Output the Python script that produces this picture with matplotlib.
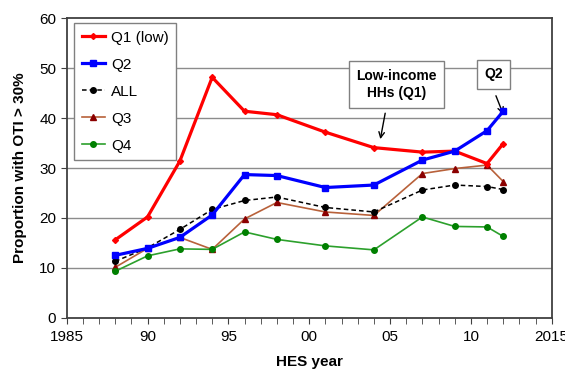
import matplotlib
matplotlib.use('Agg')
import matplotlib.pyplot as plt

plt.rcParams['font.family'] = ['Liberation Sans', 'DejaVu Sans']

years = [1988, 1990, 1992, 1994, 1996, 1998, 2001, 2004, 2007, 2009, 2011, 2012]
q1 = [15.6, 20.2, 31.4, 48.2, 41.4, 40.7, 37.2, 34.1, 33.2, 33.4, 30.9, 34.9]
q2 = [12.5, 13.9, 16.1, 20.6, 28.7, 28.5, 26.1, 26.6, 31.6, 33.4, 37.5, 41.4]
all_hh = [11.3, 14.0, 17.7, 21.7, 23.5, 24.2, 22.1, 21.2, 25.6, 26.6, 26.3, 25.7]
q3 = [10.1, 13.9, 16.1, 13.7, 19.8, 23.1, 21.2, 20.5, 28.9, 29.9, 30.6, 27.3]
q4 = [9.3, 12.4, 13.8, 13.7, 17.2, 15.7, 14.4, 13.6, 20.2, 18.3, 18.2, 16.3]

xticks = [1985, 1990, 1995, 2000, 2005, 2010, 2015]
xticklabels = ['1985', '90', '95', '00', '05', '10', '2015']

fig = plt.figure(figsize=(5.65, 3.69), dpi=100)
ax = fig.add_axes([0.118, 0.139, 0.8585, 0.811])

for yv in range(10, 60, 10):
    ax.axhline(yv, color='#8c8c8c', lw=1.0, zorder=0)

ax.plot(years, q1, color='#ff0000', lw=2.3, marker='D', ms=3, label='Q1 (low)', zorder=5)
ax.plot(years, q2, color='#0000ff', lw=2.3, marker='s', ms=4.5, label='Q2', zorder=6)
ax.plot(years, all_hh, color='#000000', lw=1.1, ls='--', marker='o', ms=4, label='ALL', zorder=4,
        dashes=(3, 2))
ax.plot(years, q3, color='#b8613a', lw=1.2, marker='^', ms=4.5, mfc='#8b0000', mec='#8b0000',
        label='Q3', zorder=3)
ax.plot(years, q4, color='#2ca02c', lw=1.2, marker='o', ms=4, mfc='#008000', mec='#008000',
        label='Q4', zorder=3)

ax.set_xlim(1985, 2015)
ax.set_ylim(0, 60)
ax.set_xticks(xticks)
ax.set_xticklabels(xticklabels)
ax.set_xticks(range(1985, 2016), minor=True)
ax.set_yticks(range(0, 61, 10))
ax.tick_params(axis='both', which='major', labelsize=11, direction='out', length=4, color='#404040')
ax.tick_params(axis='x', which='major', pad=5)
ax.tick_params(axis='x', which='minor', direction='out', length=4, color='#404040')
for sp in ax.spines.values():
    sp.set_color('#404040')
    sp.set_linewidth(1.3)

ax.set_xlabel('HES year', fontsize=11, fontweight='bold', labelpad=8)
ax.set_ylabel('Proportion with OTI > 30%', fontsize=11, fontweight='bold', labelpad=9)

leg = ax.legend(loc='upper left', bbox_to_anchor=(0.0, 1.01), fontsize=11, fancybox=False,
                edgecolor='#808080', framealpha=1, handlelength=1.5, handletextpad=0.4,
                labelspacing=0.85, borderpad=0.5)
leg.get_frame().set_linewidth(1.0)

box = dict(boxstyle='square,pad=0.55', fc='white', ec='#808080', lw=1.0)
ax.text(2005.4, 46.8, 'Low-income\nHHs (Q1)', ha='center', va='center', fontsize=10,
        fontweight='bold', bbox=box, zorder=7, linespacing=1.3)
ax.text(2011.4, 48.8, 'Q2', ha='center', va='center', fontsize=10,
        fontweight='bold', bbox=box, zorder=7)
arrow = dict(arrowstyle='->', color='black', lw=1.0, shrinkA=0, shrinkB=0)
ax.annotate('', xy=(2004.4, 35.8), xytext=(2004.7, 41.0), arrowprops=arrow)
ax.annotate('', xy=(2012.0, 40.8), xytext=(2011.55, 44.5), arrowprops=arrow)

fig.savefig('out.png', dpi=100)
